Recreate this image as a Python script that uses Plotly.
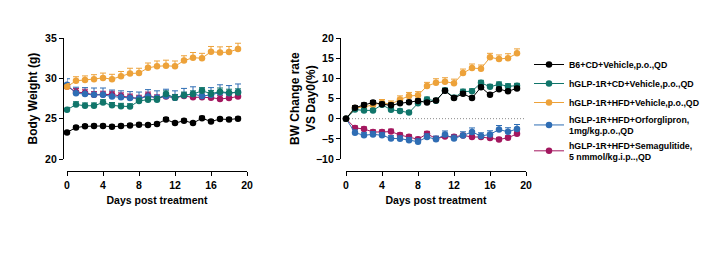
import plotly.graph_objects as go

days = list(range(20))

names = [
    "B6+CD+Vehicle,p.o.,QD",
    "hGLP-1R+CD+Vehicle,p.o.,QD",
    "hGLP-1R+HFD+Vehicle,p.o.,QD",
    "hGLP-1R+HFD+Orforglipron,<br>1mg/kg.p.o.,QD",
    "hGLP-1R+HFD+Semagulitide,<br>5 nmmol/kg.i.p..,QD",
]
colors = ["#000000", "#10756a", "#eda23a", "#2e6db4", "#a3175f"]

# Body weight (g)
bw_b6 = [23.3, 23.9, 24.05, 24.1, 24.1, 24.0, 24.1, 24.15, 24.25, 24.2, 24.35, 24.9, 24.45, 24.75, 24.45, 25.05, 24.65, 24.95, 24.9, 25.0]
bw_cd = [26.1, 26.75, 26.6, 26.6, 27.0, 26.65, 26.55, 26.5, 27.2, 27.35, 27.35, 28.05, 27.6, 27.9, 28.05, 28.45, 28.1, 28.35, 28.2, 28.25]
bw_hfd = [28.95, 29.7, 29.8, 29.9, 30.05, 29.9, 30.25, 30.6, 30.65, 31.3, 31.5, 31.55, 31.5, 32.2, 32.55, 32.5, 33.3, 33.2, 33.25, 33.65]
bw_orf = [29.2, 28.15, 28.05, 27.95, 27.95, 27.75, 27.65, 27.55, 27.5, 27.75, 27.6, 27.8, 27.6, 27.9, 28.05, 27.8, 27.95, 28.25, 28.15, 28.3]
bw_sema = [29.0, 28.3, 28.2, 27.95, 28.0, 28.0, 27.8, 27.65, 27.5, 27.9, 27.55, 27.75, 27.6, 27.8, 27.65, 27.65, 27.6, 27.45, 27.55, 27.75]

bw_err_b6 = [0.15, 0.2, 0.2, 0.2, 0.2, 0.2, 0.2, 0.2, 0.2, 0.2, 0.2, 0.25, 0.2, 0.2, 0.2, 0.25, 0.2, 0.2, 0.2, 0.2]
bw_err_cd = [0.3, 0.35, 0.35, 0.35, 0.35, 0.35, 0.35, 0.35, 0.35, 0.35, 0.4, 0.4, 0.4, 0.4, 0.4, 0.4, 0.4, 0.45, 0.45, 0.45]
bw_err_hfd = [0.4, 0.5, 0.5, 0.55, 0.6, 0.6, 0.6, 0.65, 0.6, 0.6, 0.65, 0.7, 0.65, 0.6, 0.65, 0.6, 0.65, 0.7, 0.7, 0.7]
bw_err_orf = [0.75, 0.75, 0.8, 0.85, 0.85, 0.8, 0.8, 0.8, 0.8, 0.85, 0.85, 0.85, 0.85, 0.85, 0.9, 0.9, 0.9, 0.95, 0.95, 1.0]
bw_err_sema = [0.4, 0.45, 0.45, 0.4, 0.4, 0.4, 0.4, 0.4, 0.4, 0.4, 0.4, 0.4, 0.4, 0.4, 0.4, 0.4, 0.4, 0.4, 0.4, 0.4]

# BW change rate vs day 0 (%)
ch_b6 = [0, 2.7, 3.4, 4.0, 3.6, 3.3, 3.8, 4.05, 4.4, 4.0, 4.5, 6.9, 5.1, 6.2, 5.1, 7.8, 5.9, 7.3, 6.8, 7.5]
ch_cd = [0, 2.25, 2.05, 2.05, 3.45, 2.2, 1.9, 1.5, 3.8, 4.75, 4.45, 7.0, 5.2, 6.7, 6.8, 8.9, 7.9, 8.5, 8.05, 8.15]
ch_hfd = [0, 2.65, 2.9, 3.4, 3.95, 3.6, 4.75, 5.6, 5.8, 8.1, 8.9, 9.15, 8.8, 11.3, 12.55, 12.4, 15.2, 14.8, 15.0, 16.2]
ch_orf = [0, -3.5, -4.1, -3.9, -4.1, -4.9, -4.95, -5.35, -5.7, -4.55, -5.1, -3.95, -4.9, -4.15, -3.3, -4.3, -3.9, -2.7, -3.25, -2.55]
ch_sema = [0, -2.3, -2.55, -3.3, -3.3, -3.2, -4.05, -4.5, -5.1, -3.75, -4.95, -4.45, -4.5, -4.15, -4.55, -4.55, -4.8, -5.15, -4.75, -3.75]

ch_err_b6 = [0, 0.5, 0.5, 0.5, 0.5, 0.6, 0.5, 0.5, 0.5, 0.5, 0.5, 0.5, 0.5, 0.5, 0.5, 0.5, 0.5, 0.5, 0.5, 0.5]
ch_err_cd = [0, 0.5, 0.5, 0.5, 0.5, 0.5, 0.5, 0.5, 0.5, 0.6, 0.6, 0.6, 0.6, 0.6, 0.6, 0.6, 0.6, 0.6, 0.6, 0.6]
ch_err_hfd = [0, 0.6, 0.7, 0.8, 0.8, 0.8, 0.9, 0.9, 0.9, 0.9, 1.0, 1.0, 1.0, 1.0, 1.0, 0.9, 1.0, 1.0, 1.1, 1.1]
ch_err_orf = [0, 0.7, 0.7, 0.7, 0.7, 0.7, 0.7, 0.7, 0.7, 0.8, 0.8, 0.9, 0.8, 0.9, 1.0, 0.8, 0.9, 1.0, 1.0, 1.1]
ch_err_sema = [0, 0.5, 0.5, 0.5, 0.5, 0.6, 0.5, 0.5, 0.5, 0.6, 0.5, 0.5, 0.5, 0.5, 0.5, 0.5, 0.5, 0.5, 0.5, 0.5]

bw_series = [bw_b6, bw_cd, bw_hfd, bw_orf, bw_sema]
bw_errs = [bw_err_b6, bw_err_cd, bw_err_hfd, bw_err_orf, bw_err_sema]
ch_series = [ch_b6, ch_cd, ch_hfd, ch_orf, ch_sema]
ch_errs = [ch_err_b6, ch_err_cd, ch_err_hfd, ch_err_orf, ch_err_sema]

W, H = 725, 269
FONT = "Liberation Sans, Arial, sans-serif"

fig = go.Figure()

# draw in reverse so the first groups sit on top
for i in reversed(range(5)):
    for (ser, err, xa, ya, show) in [
        (bw_series[i], bw_errs[i], "x", "y", True),
        (ch_series[i], ch_errs[i], "x2", "y2", False),
    ]:
        fig.add_trace(go.Scatter(
            x=days, y=ser, xaxis=xa, yaxis=ya,
            mode="lines+markers",
            name=names[i],
            legendrank=i + 1,
            showlegend=show,
            cliponaxis=False,
            line=dict(color=colors[i], width=1),
            marker=dict(color=colors[i], size=6.5, symbol="circle"),
            error_y=dict(type="data", symmetric=False, array=err,
                         arrayminus=[0] * len(err), color=colors[i],
                         thickness=1, width=3),
        ))

def px(x):
    return x / W

def py(y):
    return 1 - y / H

axis_common = dict(
    showline=True, linecolor="black", linewidth=1.3,
    ticks="outside", ticklen=4, tickwidth=1.3, tickcolor="black",
    showgrid=False, zeroline=False,
    tickfont=dict(family=FONT, size=10.5, color="black", weight="bold"),
)

x_title = dict(text="Days post treatment",
               font=dict(family=FONT, size=10.5, color="black", weight="bold"),
               standoff=6)

fig.update_layout(
    width=W, height=H,
    margin=dict(l=0, r=0, t=0, b=0, autoexpand=False),
    paper_bgcolor="white", plot_bgcolor="white",
    showlegend=True,
    legend=dict(
        x=px(529), y=py(50), xanchor="left", yanchor="top",
        font=dict(family=FONT, size=8.8, color="black", weight="bold"),
        bgcolor="rgba(0,0,0,0)", itemwidth=30, valign="middle",
        traceorder="normal",
    ),
    xaxis=dict(domain=[px(67), px(247)], range=[0, 20], tickvals=[0, 4, 8, 12, 16, 20],
               anchor="free", position=py(171), title=x_title, **axis_common),
    yaxis=dict(domain=[py(159), py(38)], range=[20, 35], tickvals=[20, 25, 30, 35],
               anchor="free", position=px(63), **axis_common),
    xaxis2=dict(domain=[px(346), px(526)], range=[0, 20], tickvals=[0, 4, 8, 12, 16, 20],
                anchor="free", position=py(171), title=x_title, **axis_common),
    yaxis2=dict(domain=[py(159), py(38)], range=[-10, 20], tickvals=[-10, -5, 0, 5, 10, 15, 20],
                anchor="free", position=px(340), **axis_common),
)

# y-axis titles placed as rotated annotations
fig.add_annotation(
    text="Body Weight (g)", textangle=-90,
    xref="paper", yref="paper", x=px(32), y=py(98.5),
    xanchor="center", yanchor="middle", showarrow=False,
    font=dict(family=FONT, size=12, color="black", weight="bold"),
)
fig.add_annotation(
    text="BW Change rate<br>VS Day0(%)", textangle=-90,
    xref="paper", yref="paper", x=px(302.5), y=py(98.5),
    xanchor="center", yanchor="middle", showarrow=False,
    font=dict(family=FONT, size=12, color="black", weight="bold"),
)

# dotted reference line at 0 %
fig.add_shape(type="line", xref="x2", yref="y2", x0=0, x1=20, y0=0, y1=0,
              line=dict(color="#8a8a8a", width=1, dash="1px,2px"), layer="below")

fig.write_html("out.html")
